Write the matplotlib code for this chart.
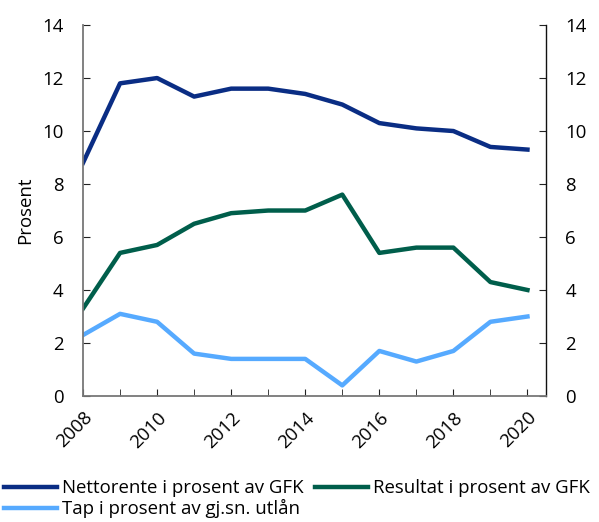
import matplotlib.pyplot as plt
import numpy as np

plt.rcParams['font.family'] = ['Open Sans', 'DejaVu Sans']

# Data
years = np.arange(2008, 2021)
nettorente = [8.8, 11.8, 12.0, 11.3, 11.6, 11.6, 11.4, 11.0, 10.3, 10.1, 10.0, 9.4, 9.3]
resultat = [3.3, 5.4, 5.7, 6.5, 6.9, 7.0, 7.0, 7.6, 5.4, 5.6, 5.6, 4.3, 4.0]
tap = [2.3, 3.1, 2.8, 1.6, 1.4, 1.4, 1.4, 0.4, 1.7, 1.3, 1.7, 2.8, 3.0]
xticks = [2008, 2010, 2012, 2014, 2016, 2018, 2020]

fs = 13.4

fig = plt.figure(figsize=(5.99, 5.22), dpi=100)
ax = fig.add_axes([0.1386, 0.2414, 0.7729, 0.7106])

l1, = ax.plot(years, nettorente, color='#0a2d84', lw=3.2, label='Nettorente i prosent av GFK')
l2, = ax.plot(years, resultat, color='#005e4b', lw=3.2, label='Resultat i prosent av GFK')
l3, = ax.plot(years, tap, color='#56aaff', lw=3.2, label='Tap i prosent av gj.sn. utlån')

ax.set_xlim(2008, 2020.5)
ax.set_ylim(0, 14)
ax.set_xticks(years, minor=True)
ax.set_xticks(xticks)
ax.set_xticklabels([str(y) for y in xticks], rotation=45, ha='right', rotation_mode='anchor')
ax.set_yticks(range(0, 15, 2))
ax.set_ylabel('Prosent', fontsize=fs, labelpad=6)

ax.tick_params(axis='both', which='both', labelsize=fs, direction='in', length=5,
               color='#222222', pad=14)
ax.tick_params(axis='x', pad=9)
ax.tick_params(axis='y', right=True, labelright=True)
ax.spines['top'].set_visible(False)
for s in ['left', 'bottom']:
    ax.spines[s].set_color('#777777')
    ax.spines[s].set_linewidth(1.3)
ax.spines['right'].set_color('#111111')
ax.spines['right'].set_linewidth(1.0)

fig.legend([l1, l3, l2], [l1.get_label(), l3.get_label(), l2.get_label()],
           loc='lower left', bbox_to_anchor=(0.0, 0.0), ncol=2, frameon=False,
           fontsize=fs, handlelength=2.85, handletextpad=0.27, columnspacing=0.6,
           labelspacing=0.1, borderaxespad=0.0, borderpad=0.2)

fig.savefig('out.png', dpi=100)
